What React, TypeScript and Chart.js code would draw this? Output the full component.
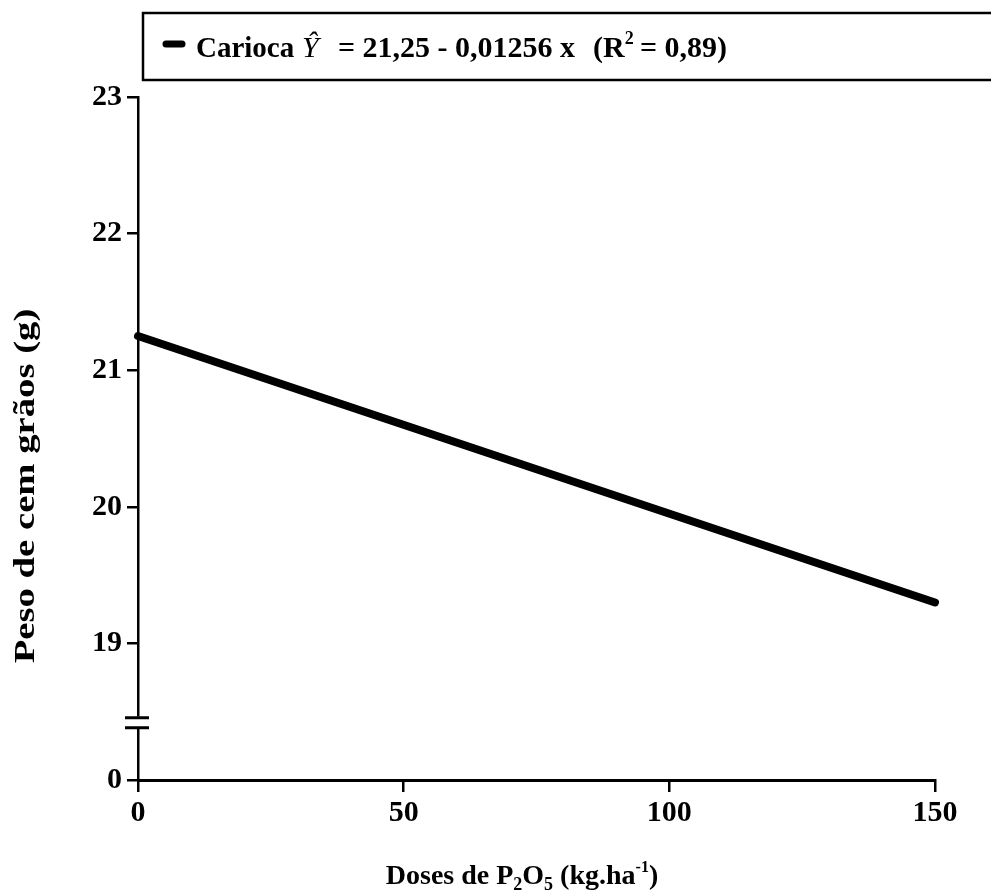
import React, { useEffect, useRef } from "react";
import { Chart, registerables } from "chart.js";

Chart.register(...registerables);

// ---- data ----
const doses = [0, 150];
const peso = [21.25, 19.3];
const xTickValues = [0, 50, 100, 150];
const yTickValues = [18, 19, 20, 21, 22, 23];
const yTickLabels = ["0", "19", "20", "21", "22", "23"];
const seriesLabel = "Carioca";
const equationText = "= 21,25 - 0,01256 x";
const r2Text = "= 0,89)";
const yTitle = "Peso de cem grãos (g)";

const SERIF = '"Liberation Serif", "Times New Roman", "DejaVu Serif", serif';

const decorPlugin = {
  id: "decor",
  afterDraw(chart: any) {
    const ctx = chart.ctx as CanvasRenderingContext2D;
    const ys = chart.scales.y;
    const xs = chart.scales.x;
    const ax = xs.getPixelForValue(0);
    ctx.save();

    // axis break
    const yb = ys.getPixelForValue(18.42);
    ctx.fillStyle = "#fff";
    ctx.fillRect(ax - 4, yb - 6, 8, 12);
    ctx.strokeStyle = "#000";
    ctx.lineWidth = 3;
    ctx.beginPath();
    ctx.moveTo(ax - 13, yb - 5);
    ctx.lineTo(ax + 11, yb - 5);
    ctx.moveTo(ax - 13, yb + 5);
    ctx.lineTo(ax + 11, yb + 5);
    ctx.stroke();

    // legend box
    ctx.lineWidth = 2.5;
    ctx.strokeRect(143, 13, 870, 67);
    ctx.lineWidth = 7;
    ctx.lineCap = "round";
    ctx.beginPath();
    ctx.moveTo(166, 44);
    ctx.lineTo(182, 44);
    ctx.stroke();

    ctx.fillStyle = "#000";
    ctx.textBaseline = "alphabetic";
    ctx.textAlign = "left";
    const base = 57;
    ctx.font = `bold 29px ${SERIF}`;
    ctx.fillText(seriesLabel, 196, base);
    ctx.font = `italic 30px ${SERIF}`;
    ctx.fillText("Ŷ", 302, base);
    ctx.font = `bold 30px ${SERIF}`;
    ctx.fillText(equationText, 338, base);
    ctx.fillText("(R", 593, base);
    let x = 593 + ctx.measureText("(R").width;
    ctx.font = `bold 18px ${SERIF}`;
    ctx.fillText("2", x, base - 13);
    ctx.font = `bold 30px ${SERIF}`;
    const w = ctx.measureText(r2Text).width;
    ctx.fillText(r2Text, 727 - w, base);

    // x title
    const segs: [string, number, number][] = [
      ["Doses de P", 28, 0],
      ["2", 18, 6],
      ["O", 28, 0],
      ["5", 18, 6],
      [" (kg.ha", 28, 0],
      ["-1", 16, -12],
      [")", 28, 0],
    ];
    let total = 0;
    for (const [t, s] of segs) {
      ctx.font = `bold ${s}px ${SERIF}`;
      total += ctx.measureText(t).width;
    }
    let tx = 522 - total / 2;
    for (const [t, s, dy] of segs) {
      ctx.font = `bold ${s}px ${SERIF}`;
      ctx.fillText(t, tx, 884 + dy);
      tx += ctx.measureText(t).width;
    }

    // y title (stretched like the scanned original)
    ctx.translate(26, 486);
    ctx.rotate(-Math.PI / 2);
    ctx.scale(1.29, 1);
    ctx.font = `bold 30px ${SERIF}`;
    ctx.textAlign = "center";
    ctx.textBaseline = "middle";
    ctx.fillText(yTitle, 0, 0);
    ctx.restore();
  },
};

export default function App() {
  const ref = useRef<HTMLCanvasElement | null>(null);
  useEffect(() => {
    if (!ref.current) return;
    const tickFont = { family: SERIF, size: 30, weight: "bold" as const };
    const chart = new Chart(ref.current, {
      type: "line",
      data: {
        datasets: [
          {
            label: seriesLabel,
            data: doses.map((d, i) => ({ x: d, y: peso[i] })),
            borderColor: "#000",
            borderWidth: 8,
            borderCapStyle: "round",
            pointRadius: 0,
            fill: false,
            tension: 0,
            clip: false,
          },
        ],
      },
      options: {
        animation: false,
        responsive: false,
        maintainAspectRatio: false,
        layout: { padding: { top: 97, right: 56, left: 0, bottom: 0 } },
        plugins: { legend: { display: false }, tooltip: { enabled: false } },
        scales: {
          x: {
            type: "linear",
            min: 0,
            max: 150,
            afterFit: (s: any) => {
              s.height = 112;
            },
            afterBuildTicks: (s: any) => {
              s.ticks = xTickValues.map((v) => ({ value: v }));
            },
            ticks: { color: "#000", font: tickFont, padding: 3, maxRotation: 0 },
            grid: {
              drawOnChartArea: false,
              drawTicks: true,
              tickLength: 12,
              color: "#000",
              lineWidth: 2.5,
            },
            border: { display: true, color: "#000", width: 3 },
          },
          y: {
            type: "linear",
            min: 18,
            max: 23,
            afterFit: (s: any) => {
              s.width = 138;
            },
            afterBuildTicks: (s: any) => {
              s.ticks = yTickValues.map((v) => ({ value: v }));
            },
            ticks: {
              color: "#000",
              font: tickFont,
              padding: 5,
              callback: (v: any) => {
                const i = yTickValues.indexOf(Number(v));
                return i >= 0 ? yTickLabels[i] : "";
              },
            },
            grid: {
              drawOnChartArea: false,
              drawTicks: true,
              tickLength: 11,
              color: "#000",
              lineWidth: 2.5,
            },
            border: { display: true, color: "#000", width: 2.5 },
          },
        },
      },
      plugins: [decorPlugin],
    });
    return () => chart.destroy();
  }, []);
  return (
    <div style={{ position: "absolute", left: 0, top: 0, width: 991, height: 892, background: "#fff" }}>
      <canvas ref={ref} width={991} height={892} style={{ display: "block", width: 991, height: 892 }} />
    </div>
  );
}
